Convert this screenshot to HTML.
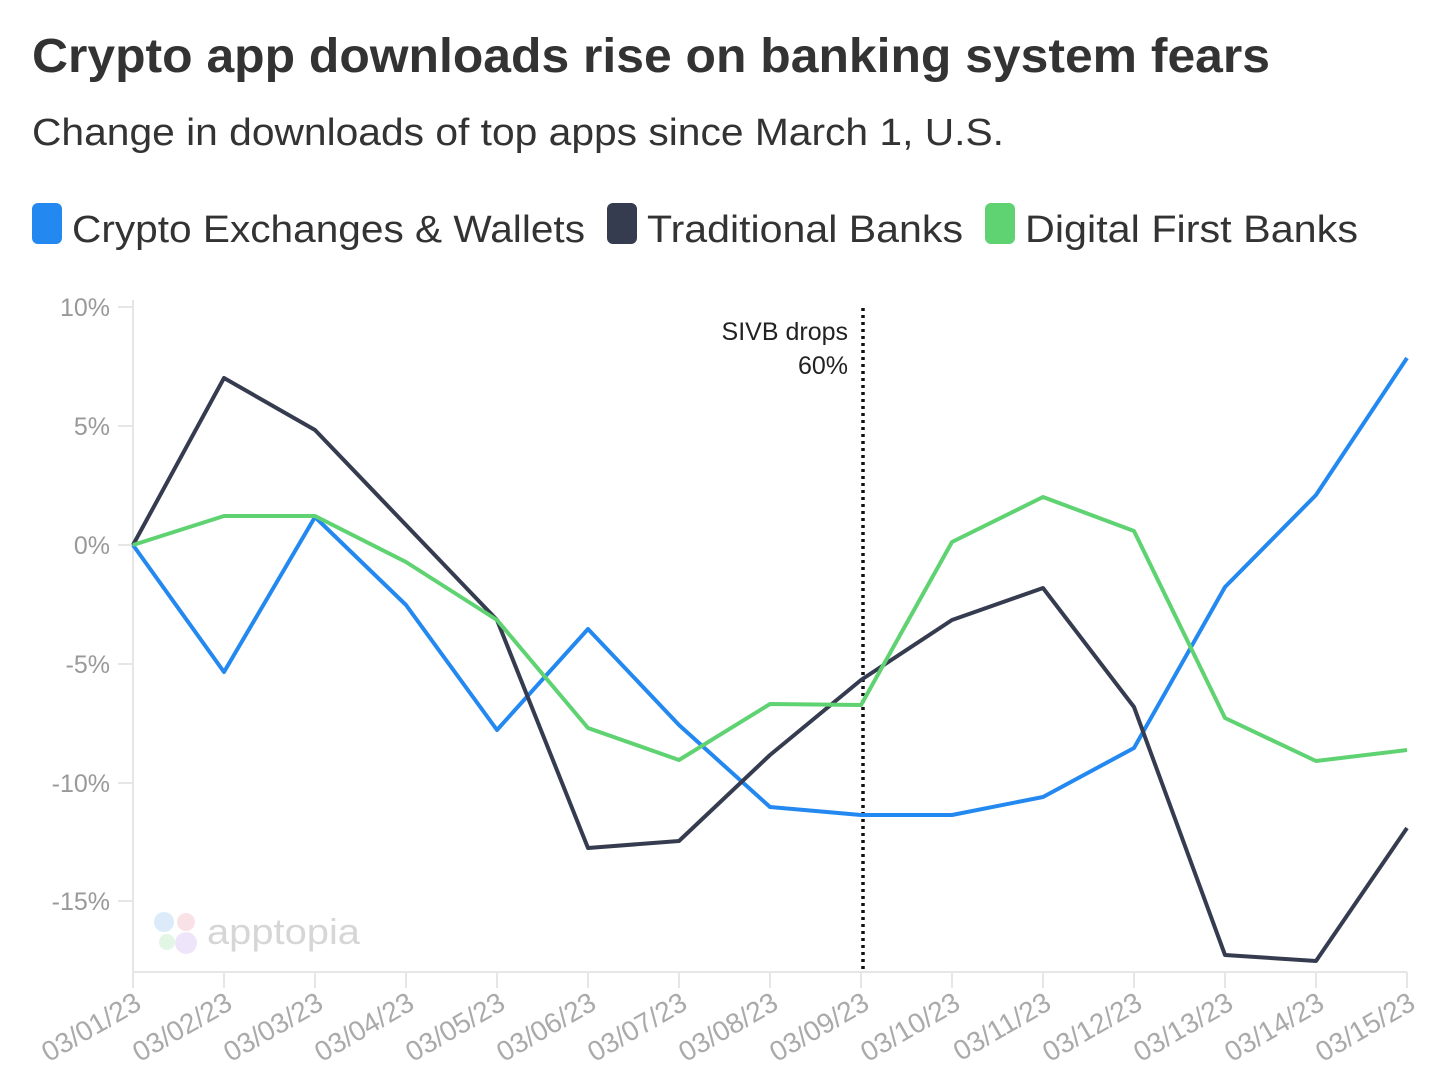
<!DOCTYPE html>
<html><head><meta charset="utf-8"><style>
html,body{margin:0;padding:0;background:#fff;}
svg{display:block;font-family:"Liberation Sans",sans-serif;}
</style></head><body>
<svg width="1439" height="1082" viewBox="0 0 1439 1082" xmlns="http://www.w3.org/2000/svg">
<rect width="1439" height="1082" fill="#fff"/>
<text x="32" y="72" font-size="48" font-weight="bold" fill="#333" textLength="1238" lengthAdjust="spacingAndGlyphs">Crypto app downloads rise on banking system fears</text>
<text x="32" y="145" font-size="38" fill="#333" textLength="972" lengthAdjust="spacingAndGlyphs">Change in downloads of top apps since March 1, U.S.</text>
<rect x="32" y="203" width="30" height="41" rx="6" fill="#2389f0"/>
<text x="72" y="242" font-size="38" fill="#333" textLength="513" lengthAdjust="spacingAndGlyphs">Crypto Exchanges &amp; Wallets</text>
<rect x="607" y="203" width="30" height="41" rx="6" fill="#363c4f"/>
<text x="647" y="242" font-size="38" fill="#333" textLength="316" lengthAdjust="spacingAndGlyphs">Traditional Banks</text>
<rect x="985" y="203" width="30" height="41" rx="6" fill="#5fd272"/>
<text x="1025" y="242" font-size="38" fill="#333" textLength="333" lengthAdjust="spacingAndGlyphs">Digital First Banks</text>

<g stroke="#e6e6e6" stroke-width="2">
<line x1="133" y1="300" x2="133" y2="972"/>
<line x1="133" y1="972" x2="1407" y2="972"/>
<line x1="118" y1="307" x2="133" y2="307"/>
<line x1="118" y1="426" x2="133" y2="426"/>
<line x1="118" y1="545" x2="133" y2="545"/>
<line x1="118" y1="664" x2="133" y2="664"/>
<line x1="118" y1="783" x2="133" y2="783"/>
<line x1="118" y1="901" x2="133" y2="901"/>
</g>
<g font-size="25" fill="#999" text-anchor="end">
<text x="110" y="316">10%</text>
<text x="110" y="435">5%</text>
<text x="110" y="554">0%</text>
<text x="110" y="673">-5%</text>
<text x="110" y="792">-10%</text>
<text x="110" y="910">-15%</text>
</g>
<g stroke="#e6e6e6" stroke-width="2">
<line x1="133" y1="972" x2="133" y2="988"/><line x1="224" y1="972" x2="224" y2="988"/><line x1="315" y1="972" x2="315" y2="988"/><line x1="406" y1="972" x2="406" y2="988"/><line x1="497" y1="972" x2="497" y2="988"/><line x1="588" y1="972" x2="588" y2="988"/><line x1="679" y1="972" x2="679" y2="988"/><line x1="770" y1="972" x2="770" y2="988"/><line x1="861" y1="972" x2="861" y2="988"/><line x1="952" y1="972" x2="952" y2="988"/><line x1="1043" y1="972" x2="1043" y2="988"/><line x1="1134" y1="972" x2="1134" y2="988"/><line x1="1225" y1="972" x2="1225" y2="988"/><line x1="1316" y1="972" x2="1316" y2="988"/><line x1="1407" y1="972" x2="1407" y2="988"/>
</g>
<g font-size="28" fill="#aaa" text-anchor="end">
<text transform="translate(143,1008) rotate(-30)">03/01/23</text>
<text transform="translate(234,1008) rotate(-30)">03/02/23</text>
<text transform="translate(325,1008) rotate(-30)">03/03/23</text>
<text transform="translate(416,1008) rotate(-30)">03/04/23</text>
<text transform="translate(507,1008) rotate(-30)">03/05/23</text>
<text transform="translate(598,1008) rotate(-30)">03/06/23</text>
<text transform="translate(689,1008) rotate(-30)">03/07/23</text>
<text transform="translate(780,1008) rotate(-30)">03/08/23</text>
<text transform="translate(871,1008) rotate(-30)">03/09/23</text>
<text transform="translate(962,1008) rotate(-30)">03/10/23</text>
<text transform="translate(1053,1008) rotate(-30)">03/11/23</text>
<text transform="translate(1144,1008) rotate(-30)">03/12/23</text>
<text transform="translate(1235,1008) rotate(-30)">03/13/23</text>
<text transform="translate(1326,1008) rotate(-30)">03/14/23</text>
<text transform="translate(1417,1008) rotate(-30)">03/15/23</text>
</g>
<g opacity="0.5">
<circle cx="164" cy="922" r="10" fill="#b8d8f5"/>
<circle cx="186" cy="922" r="9" fill="#f5c6cf"/>
<circle cx="167" cy="942" r="8" fill="#c5efcc"/>
<circle cx="186" cy="943" r="11" fill="#e0cdf6"/>
</g>
<text x="207" y="944" font-size="36" fill="#d6d6d6" textLength="153" lengthAdjust="spacingAndGlyphs">apptopia</text>

<line x1="863" y1="308" x2="863" y2="972" stroke="#111" stroke-width="3.5" stroke-dasharray="3,4"/>
<text x="848" y="340" font-size="25" fill="#222" text-anchor="end">SIVB drops</text>
<text x="848" y="374" font-size="25" fill="#222" text-anchor="end">60%</text>

<g fill="none" stroke-width="4" stroke-linejoin="round">
<polyline stroke="#2389f0" points="133,545 224,672 315,517 406,605 497,730 588,629 679,725 770,807 861,815 952,815 1043,797 1134,748 1225,587 1316,495 1407,358"/>
<polyline stroke="#363c4f" points="133,545 224,378 315,430 406,525 497,620 588,848 679,841 770,755 861,680 952,620 1043,588 1134,707 1225,955 1316,961 1407,828"/>
<polyline stroke="#5fd272" points="133,545 224,516 315,516 406,562 497,620 588,728 679,760 770,704 861,705 952,542 1043,497 1134,531 1225,718 1316,761 1407,750"/>
</g>
</svg>
</body></html>
